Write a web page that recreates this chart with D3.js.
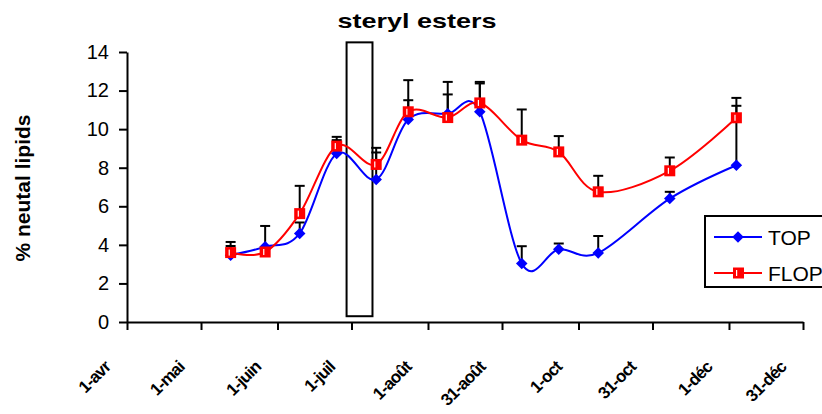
<!DOCTYPE html>
<html>
<head>
<meta charset="utf-8">
<script src="https://cdn.jsdelivr.net/npm/d3@7"></script>
<style>
    body { margin: 0; background: #fff; }
    svg { font-family: "Liberation Sans", Arial, sans-serif; }
</style>
</head>
<body>
<div id="chart"></div>
<script>
// sampling dates and values
var sampleDates = ["2001-05-13", "2001-05-27", "2001-06-10", "2001-06-25", "2001-07-11", "2001-07-24",
                   "2001-08-09", "2001-08-22", "2001-09-08", "2001-09-23", "2001-10-09", "2001-11-07", "2001-12-04"];
var topValues  = [3.46, 3.9, 4.59, 8.74, 7.39, 10.5, 10.8, 10.9, 3.03, 3.77, 3.58, 6.4, 8.13];
var topErr     = [0.48, 1.08, 0.57, 0.69, 1.4, 1.0, 1.0, 1.47, 0.9, 0.3, 0.88, 0.35, 3.49];
var flopValues = [3.6, 3.63, 5.62, 9.12, 8.17, 10.9, 10.6, 11.36, 9.43, 8.82, 6.75, 7.84, 10.59];
var flopErr    = [0.55, 0.15, 1.44, 0.48, 0.86, 1.64, 1.85, 1.09, 1.59, 0.82, 0.83, 0.69, 0.62];

var tickDates  = ["2001-04-01", "2001-05-01", "2001-06-01", "2001-07-01", "2001-08-01",
                  "2001-08-31", "2001-10-01", "2001-10-31", "2001-12-01", "2001-12-31"];
var tickLabels = ["1-avr", "1-mai", "1-juin", "1-juil", "1-août", "31-août", "1-oct", "31-oct", "1-déc", "31-déc"];
var yTicks = [0, 2, 4, 6, 8, 10, 12, 14];

// the boxed period drawn on the chart
var boxDates  = ["2001-06-29T00:00", "2001-07-09T12:00"];
var boxValues = [0.3, 14.5];

SterylChart = function(parentElement) {
    var vis = this;
    vis.parentElement = parentElement;
    vis.initVis();
}

SterylChart.prototype.initVis = function() {
    var vis = this;
    var parse = d3.timeParse("%Y-%m-%d");
    var parseT = d3.timeParse("%Y-%m-%dT%H:%M");

    vis.margin = {top: 52, bottom: 92, left: 127, right: 19};
    vis.width = 822 - vis.margin.left - vis.margin.right;
    vis.height = 414 - vis.margin.top - vis.margin.bottom;

    vis.root = d3.select("#" + vis.parentElement)
        .append("svg")
        .attr("width", 822)
        .attr("height", 414);
    vis.svg = vis.root.append("g")
        .attr("transform", "translate(" + vis.margin.left + "," + vis.margin.top + ")");

    vis.x = d3.scaleTime()
        .domain([parse("2001-04-01"), parse("2001-12-31")])
        .range([0, vis.width]);
    vis.y = d3.scaleLinear()
        .domain([0, 14])
        .range([vis.height, 0]);

    vis.data = sampleDates.map((d, i) => ({
        date: parse(d),
        top: topValues[i], topErr: topErr[i],
        flop: flopValues[i], flopErr: flopErr[i]
    }));

    // title + y label
    vis.root.append("text")
        .attr("x", 417)
        .attr("y", 28)
        .attr("text-anchor", "middle")
        .style("font-size", "21px")
        .style("font-weight", "bold")
        .attr("textLength", 159)
        .attr("lengthAdjust", "spacingAndGlyphs")
        .text("steryl esters");

    vis.root.append("text")
        .attr("transform", "translate(30,188) rotate(-90)")
        .attr("text-anchor", "middle")
        .style("font-size", "21px")
        .style("font-weight", "bold")
        .text("% neutal lipids");

    // axes
    vis.yAxis = d3.axisLeft(vis.y).tickValues(yTicks).tickSize(8).tickSizeOuter(0).tickPadding(10);
    var gy = vis.svg.append("g").attr("class", "y-axis").call(vis.yAxis);
    gy.selectAll("text")
        .style("font-size", "20px")
        .style("font-family", "'Liberation Sans', Arial")
        .attr("fill", "#000");

    vis.xAxis = d3.axisBottom(vis.x)
        .tickValues(tickDates.map(parse))
        .tickSize(8).tickSizeOuter(0)
        .tickFormat("");
    var gx = vis.svg.append("g").attr("class", "x-axis")
        .attr("transform", "translate(0," + vis.height + ")")
        .call(vis.xAxis);
    gx.selectAll("text").remove();
    // rotated date labels
    gx.selectAll(".tick").each(function(d, i) {
        d3.select(this).append("text")
            .attr("transform", "translate(-16,46) rotate(-45)")
            .attr("text-anchor", "end")
            .attr("fill", "#000")
            .style("font-size", "17px")
            .style("font-weight", "bold")
            .style("font-family", "'Liberation Sans', Arial")
            .style("letter-spacing", "-0.8px")
            .text(tickLabels[i]);
    });
    vis.svg.selectAll(".x-axis path, .x-axis line, .y-axis path, .y-axis line")
        .attr("stroke", "#000").attr("stroke-width", 2);

    // boxed period
    vis.svg.append("rect")
        .attr("x", vis.x(parseT(boxDates[0])))
        .attr("y", vis.y(boxValues[1]))
        .attr("width", vis.x(parseT(boxDates[1])) - vis.x(parseT(boxDates[0])))
        .attr("height", vis.y(boxValues[0]) - vis.y(boxValues[1]))
        .attr("fill", "none")
        .attr("stroke", "#000")
        .attr("stroke-width", 2);

    vis.updateVis();
}

SterylChart.prototype.updateVis = function() {
    var vis = this;

    // error bars (upper only)
    ["top", "flop"].forEach(function(key) {
        var g = vis.svg.append("g").attr("class", "err-" + key);
        g.selectAll("line.bar").data(vis.data).enter().append("line")
            .attr("class", "bar")
            .attr("x1", d => vis.x(d.date)).attr("x2", d => vis.x(d.date))
            .attr("y1", d => vis.y(d[key]))
            .attr("y2", d => vis.y(d[key] + d[key + "Err"]))
            .attr("stroke", "#000").attr("stroke-width", 2);
        g.selectAll("line.cap").data(vis.data).enter().append("line")
            .attr("class", "cap")
            .attr("x1", d => vis.x(d.date) - 5).attr("x2", d => vis.x(d.date) + 5)
            .attr("y1", d => vis.y(d[key] + d[key + "Err"]))
            .attr("y2", d => vis.y(d[key] + d[key + "Err"]))
            .attr("stroke", "#000").attr("stroke-width", 2);
    });

    var diamond = d3.symbol().type(d3.symbolDiamond2).size(85);

    // TOP
    var topLine = d3.line().x(d => vis.x(d.date)).y(d => vis.y(d.top)).curve(d3.curveCardinal);
    vis.svg.append("path").datum(vis.data)
        .attr("d", topLine)
        .attr("fill", "none").attr("stroke", "#0000ff").attr("stroke-width", 2);
    vis.svg.selectAll("path.top-pt").data(vis.data).enter().append("path")
        .attr("class", "top-pt")
        .attr("d", diamond)
        .attr("transform", d => "translate(" + vis.x(d.date) + "," + vis.y(d.top) + ")")
        .attr("fill", "#0000ff");

    // FLOP
    var flopLine = d3.line().x(d => vis.x(d.date)).y(d => vis.y(d.flop)).curve(d3.curveCardinal);
    vis.svg.append("path").datum(vis.data)
        .attr("d", flopLine)
        .attr("fill", "none").attr("stroke", "#ff0000").attr("stroke-width", 2);
    var sq = vis.svg.selectAll("g.flop-pt").data(vis.data).enter().append("g")
        .attr("class", "flop-pt")
        .attr("transform", d => "translate(" + vis.x(d.date) + "," + vis.y(d.flop) + ")");
    sq.append("rect").attr("x", -5.5).attr("y", -5.5).attr("width", 11).attr("height", 11).attr("fill", "#ff0000");
    sq.append("rect").attr("x", -2).attr("y", -3).attr("width", 1.2).attr("height", 6).attr("fill", "#fff");

    // legend
    var lg = vis.root.append("g").attr("transform", "translate(705,216)");
    lg.append("rect").attr("width", 130).attr("height", 71)
        .attr("fill", "#fff").attr("stroke", "#000").attr("stroke-width", 2);
    var items = [{name: "TOP", color: "#0000ff"}, {name: "FLOP", color: "#ff0000"}];
    items.forEach(function(it, i) {
        var cy = 21 + i * 36;
        lg.append("line").attr("x1", 9).attr("x2", 57).attr("y1", cy).attr("y2", cy)
            .attr("stroke", it.color).attr("stroke-width", 2);
        if (i == 0) {
            lg.append("path").attr("d", diamond).attr("transform", "translate(33," + cy + ")").attr("fill", it.color);
        } else {
            lg.append("rect").attr("x", 28).attr("y", cy - 5.5).attr("width", 11).attr("height", 11).attr("fill", it.color);
            lg.append("rect").attr("x", 31).attr("y", cy - 3).attr("width", 1.2).attr("height", 6).attr("fill", "#fff");
        }
        lg.append("text").attr("x", 63).attr("y", cy + 7.5)
            .style("font-size", "21px").text(it.name);
    });
}

new SterylChart("chart");
</script>
</body>
</html>
